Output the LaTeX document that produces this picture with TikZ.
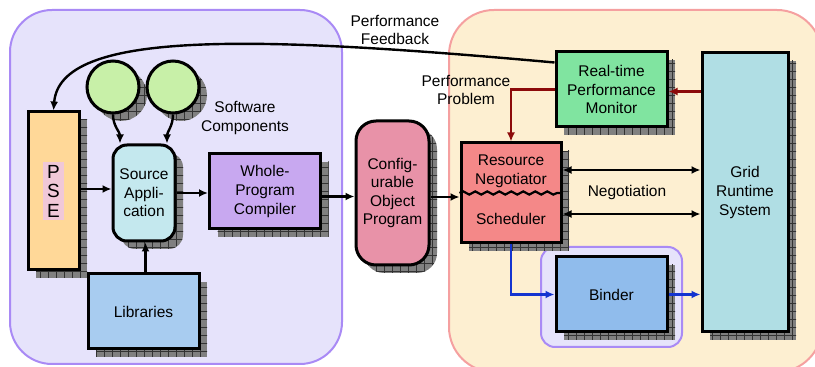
\documentclass[tikz,border=0pt]{standalone}
\usepackage{fontspec}
\setmainfont{Liberation Sans}
\usetikzlibrary{arrows.meta}
\usetikzlibrary{patterns.meta}
\usetikzlibrary{decorations.pathmorphing}
\definecolor{lavfill}{HTML}{E6E3FB}
\definecolor{lavline}{HTML}{A98AF5}
\definecolor{crmfill}{HTML}{FDEFD1}
\definecolor{crmline}{HTML}{F5A0A0}
\definecolor{pseor}{HTML}{FFD898}
\definecolor{psepk}{HTML}{F0C8D8}
\definecolor{compgr}{HTML}{C8F0A8}
\definecolor{srccy}{HTML}{C4E8EE}
\definecolor{wpcpu}{HTML}{C8A8F0}
\definecolor{libbl}{HTML}{A8CCF0}
\definecolor{cfgpk}{HTML}{E892A8}
\definecolor{resrd}{HTML}{F48888}
\definecolor{mongr}{HTML}{80E4A0}
\definecolor{grdcy}{HTML}{B0DEE4}
\definecolor{bndbl}{HTML}{90BCEC}
\definecolor{mred}{HTML}{8C0A0A}
\definecolor{mblue}{HTML}{1434D0}
\newcommand{\lbl}{\fontsize{15.5}{18.6}\selectfont}
\tikzset{boxshade/.style = {
    preaction={fill=black!50, transform canvas={xshift=8pt, yshift=-8pt}},
    preaction={pattern={Lines[angle=0, distance=8pt, line width=.6pt]},
      pattern color=black!80, transform canvas={xshift=8pt, yshift=-8pt}},
    preaction={pattern={Lines[angle=90, distance=8pt, line width=.6pt]},
      pattern color=black!80, transform canvas={xshift=8pt, yshift=-8pt}}}}
\tikzset{blk/.style = {draw, line width=3pt, boxshade, align=center,
    font=\lbl, inner sep=0}}
\tikzset{conn/.style = {line width=2.4pt, -{Latex[length=9pt, width=8pt]}}}
\tikzset{conn2/.style = {line width=2.4pt, {Latex[length=9pt, width=8pt]}-{Latex[length=9pt, width=8pt]}}}
\tikzset{txt/.style = {align=center, font=\lbl, inner sep=0}}

\begin{document}
\begin{tikzpicture}[x=1pt, y=1pt]
    \path[use as bounding box] (0,0) rectangle (815,367);

    % the two areas
    \begin{scope}
      \clip (0,0) rectangle (815,367);
      \draw[lavline, fill=lavfill, line width=2pt, rounded corners=42pt]
        (10,3) rectangle (342,357);
      \draw[crmline, fill=crmfill, line width=2pt, rounded corners=45pt]
        (449,-5) rectangle (822,357);
    \end{scope}
    \draw[lavline, fill=lavfill, line width=2pt, rounded corners=14pt]
      (541,20) rectangle (682,120);

    \node[blk, fill=pseor, minimum width=51pt, minimum height=158pt] (pse) at (53.5,176) {};
    \node[txt, fill=psepk, inner xsep=4.5pt, inner ysep=3pt,
      font=\fontsize{19}{19.5}\selectfont] (pselbl) at (pse) {P\\S\\E};

    \node[blk, circle, fill=compgr, minimum size=52pt] (cA) at (113,280) {};
    \node[blk, circle, fill=compgr, minimum size=52pt] (cB) at (173,280) {};
    \node[txt] (swc) at (245,249) {Software\\Components};

    \node[blk, fill=srccy, rounded corners=14pt, minimum width=62pt,
      minimum height=96pt] (src) at (144,174) {Source\\Appli-\\cation};
    \node[blk, fill=wpcpu, minimum width=111pt, minimum height=75pt]
      (wpc) at (265,175.5) {Whole-\\Program\\Compiler};
    \node[blk, fill=libbl, minimum width=111pt, minimum height=75pt]
      (lib) at (143.5,55.5) {Libraries};

    \node[blk, fill=cfgpk, rounded corners=20pt, minimum width=73pt,
      minimum height=144pt] (cfg) at (392.5,174) {Config-\\urable\\Object\\Program};

    \node[blk, fill=resrd, minimum width=100pt, minimum height=100pt] (res) at (511,174) {};
    \draw[line width=2.2pt, decorate,
      decoration={snake, amplitude=1.6pt, segment length=12pt}] (res.west) -- (res.east);
    \node[txt] (neglbl) at (511,196) {Resource\\Negotiator};
    \node[txt] (schlbl) at (511,148) {Scheduler};

    \node[blk, fill=mongr, minimum width=111pt, minimum height=75pt]
      (mon) at (611.5,277.5) {Real-time\\Performance\\Monitor};
    \node[blk, fill=grdcy, minimum width=86pt, minimum height=279pt]
      (grid) at (745,174.5) {Grid\\Runtime\\System};
    \node[blk, fill=bndbl, minimum width=111pt, minimum height=75pt]
      (bnd) at (611.5,72.5) {Binder};

    \node[txt] (fblbl) at (395,337) {Performance\\Feedback};
    \node[txt] (pplbl) at (466,277) {Performance\\Problem};
    \node[txt] (ngtlbl) at (627,175) {Negotiation};

    % compile side
    \draw[conn] (cA.south) to[out=-90, in=90] ([xshift=-24pt]src.north);
    \draw[conn] (cB.south) to[out=-90, in=90] ([xshift=23pt]src.north);
    \draw[conn] ([yshift=4pt]src.west -| pse.east) -- ([yshift=4pt]src.west);
    \draw[conn] ([xshift=2pt]lib.north) -- ([xshift=2pt]lib.north |- src.south);
    \draw[conn] (src.east) -- (src.east -| wpc.west);
    \draw[conn] ([yshift=-5pt]wpc.east) -- ([yshift=-5pt]wpc.east -| cfg.west);
    \draw[conn] ([yshift=-4pt]cfg.east) -- ([yshift=-4pt]cfg.east -| res.west);

    % run-time side
    \draw[conn] ([yshift=27pt]mon.west) .. controls (250,332) and (60,337) .. (pse.north);
    \draw[conn, mred] (mon.west) -| (res.north);
    \draw[conn, mred] ([yshift=-2pt]mon.east -| grid.west) -- ([yshift=-2pt]mon.east);
    \draw[conn2] ([yshift=23pt]res.east) -- ([yshift=23pt]res.east -| grid.west);
    \draw[conn2] ([yshift=-21pt]res.east) -- ([yshift=-21pt]res.east -| grid.west);
    \draw[conn, mblue] (res.south) |- (bnd.west);
    \draw[conn, mblue] (bnd.east) -- (bnd.east -| grid.west);
  \end{tikzpicture}
\end{document}
